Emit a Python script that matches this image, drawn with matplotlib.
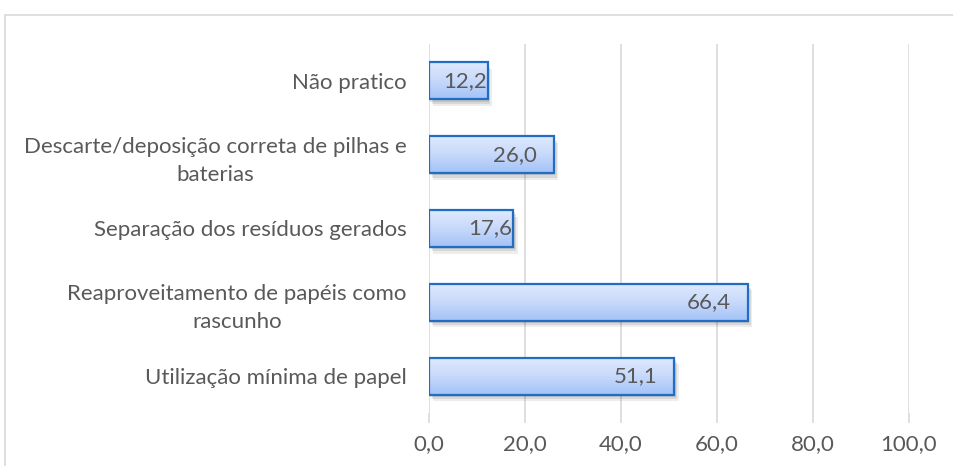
import numpy as np
import matplotlib
matplotlib.use("Agg")
import matplotlib.pyplot as plt
from matplotlib.patches import Rectangle

# categories from top to bottom as they appear in the chart
categories = [
    "Não pratico",
    "Descarte/deposição correta de pilhas e\nbaterias",
    "Separação dos resíduos gerados",
    "Reaproveitamento de papéis como\nrascunho",
    "Utilização mínima de papel",
]
values = [12.2, 26.0, 17.6, 66.4, 51.1]
xticks = [0, 20, 40, 60, 80, 100]

plt.rcParams['font.family'] = ['Lato', 'DejaVu Sans']
txt = '#595959'
fs = 16

fig = plt.figure(figsize=(9.54, 4.66), dpi=100)
# outer chart frame (cut off at right/bottom like the screenshot)
fig.patches.append(Rectangle((5 / 954, -0.1), 1.1, (466 - 15) / 466 + 0.1,
                             transform=fig.transFigure, fill=False,
                             edgecolor='#d9d9d9', lw=1.2))

ax = fig.add_axes([429 / 954, 53 / 466, 480 / 954, 369 / 466])
ax.set_xlim(0, 100)
ax.set_ylim(4.5, -0.5)

ypos = np.arange(len(categories))
h = 0.5
grad = np.linspace(0, 1, 64).reshape(-1, 1)
cmap = matplotlib.colors.LinearSegmentedColormap.from_list(
    'b', ['#dfe9fd', '#c7d9fb', '#a3c2f7'])

for y, v in zip(ypos, values):
    # soft shadow
    for k, a in [(0.9, 0.07), (0.6, 0.09), (0.3, 0.1)]:
        ax.add_patch(Rectangle((k, y - h / 2 + k * 0.1), v, h, facecolor='#000000',
                               alpha=a, lw=0, zorder=2))
    im = ax.imshow(grad, cmap=cmap, aspect='auto', extent=(0, v, y + h / 2, y - h / 2),
                   zorder=3, interpolation='bilinear')
    bar = ax.barh(y, v, height=h, facecolor='none', edgecolor='#1f6dc4', lw=1.6, zorder=4)
    im.set_clip_path(bar[0])
    off = -17 if v > 20 else -1
    ax.annotate(f"{v:.1f}".replace('.', ','), (v, y), xytext=(off * 0.72, 0),
                textcoords='offset points', ha='right', va='center',
                color=txt, fontsize=fs, zorder=5)

ax.set_xticks(xticks)
ax.set_xticklabels([f"{t:.1f}".replace('.', ',') for t in xticks], color=txt, fontsize=fs)
ax.set_yticks(ypos)
ax.set_yticklabels(categories, color=txt, fontsize=fs)
for lab in ax.get_yticklabels():
    lab.set_multialignment('center')
    lab.set_linespacing(1.5)

ax.grid(axis='x', color='#d9d9d9', lw=1.2, zorder=0)
ax.set_axisbelow(True)
for s in ax.spines.values():
    s.set_visible(False)
ax.tick_params(axis='x', length=7, color='#d9d9d9', width=1.2, pad=8)
ax.tick_params(axis='y', length=0, pad=16)

fig.savefig('out.png', dpi=100)
